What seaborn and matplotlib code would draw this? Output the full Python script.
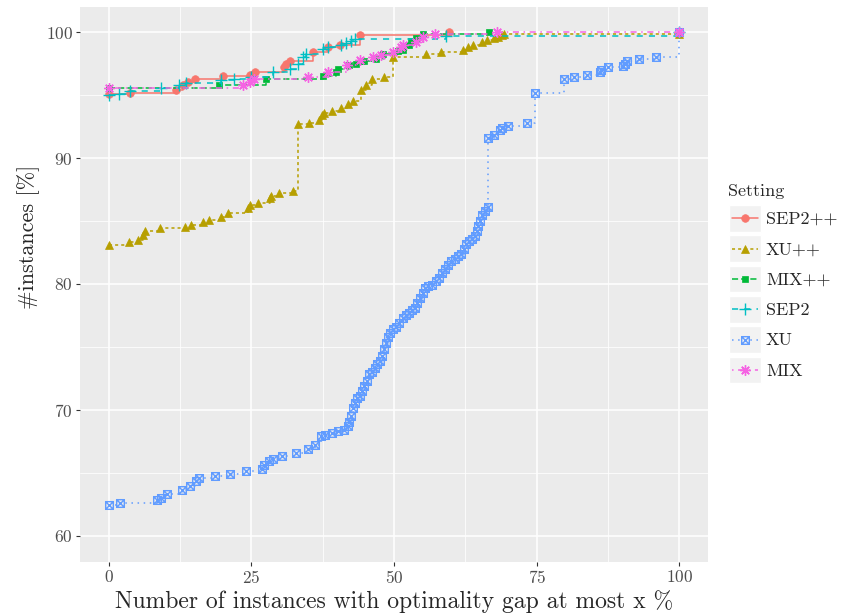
import numpy as np
import pandas as pd
import matplotlib
matplotlib.use("Agg")
import matplotlib.pyplot as plt
import seaborn as sns
from matplotlib.path import Path
from matplotlib.lines import Line2D
from matplotlib.patches import Rectangle
from matplotlib.legend_handler import HandlerBase

# step curves: x = gap bound, y = % of instances
sep2pp_x = [0, 3.7, 11.9, 13.0, 13.9, 15.1, 20.0, 24.7, 25.7, 30.8, 31.1, 31.7, 35.8, 38.4, 40.5, 44.0, 59.6]
sep2pp_y = [95.1, 95.2, 95.4, 95.8, 96.05, 96.3, 96.5, 96.6, 96.8, 97.25, 97.5, 97.7, 98.45, 98.8, 98.97, 99.8, 100.0]

xupp_x = [0, 3.6, 5.1, 6.0, 6.3, 9.1, 13.4, 14.4, 16.5, 17.6, 19.7, 21.0, 24.4, 24.7, 26.1, 28.2, 28.5,
          29.8, 32.3, 33.2, 35.1, 36.8, 37.4, 37.8, 39.2, 40.7, 41.9, 42.8, 44.3, 45.1, 46.1, 48.3, 49.8,
          55.6, 58.2, 62.1, 62.9, 63.8, 65.5, 66.3, 67.5, 68.2, 68.9, 69.2, 100]
xupp_y = [83.1, 83.3, 83.5, 83.9, 84.2, 84.4, 84.55, 84.7, 84.9, 85.1, 85.35, 85.6, 86.0, 86.3, 86.45, 86.8, 87.0,
          87.2, 87.4, 92.7, 92.8, 93.0, 93.4, 93.6, 93.7, 93.95, 94.26, 94.5, 95.4, 95.8, 96.25, 96.4, 98.04,
          98.25, 98.44, 98.57, 98.8, 99.0, 99.2, 99.4, 99.5, 99.6, 99.76, 99.82, 99.82]

mixpp_x = [0, 19.3, 27.6, 37.5, 39.9, 40.2, 42.2, 43.4, 44.8, 46.9, 48.0, 50.7, 51.5, 52.7, 53.0, 53.9, 55.1, 66.7]
mixpp_y = [95.55, 95.8, 96.24, 96.5, 96.85, 97.1, 97.38, 97.5, 97.72, 97.85, 98.25, 98.5, 98.57, 98.97, 99.29, 99.5, 99.84, 100.0]

sep2_x = [0, 1.9, 3.7, 9.2, 12.4, 13.6, 19.7, 21.9, 25.0, 28.8, 31.7, 33.2, 34.0, 34.6, 37.5, 38.4, 40.7,
          41.6, 42.5, 43.1, 59.1, 100]
sep2_y = [95.0, 95.1, 95.35, 95.6, 95.8, 95.95, 96.2, 96.27, 96.45, 96.85, 97.1, 97.5, 98.0, 98.3, 98.7, 98.8, 98.97,
          99.15, 99.3, 99.42, 99.7, 100.0]

xu_x = [0, 2.0, 8.4, 9.2, 10.3, 12.8, 14.2, 15.4, 15.9, 18.6, 21.2, 24.1, 26.9, 27.3, 28.1, 28.8, 30.4, 32.9,
        34.9, 36.1, 37.2, 38.0, 39.1, 40.2, 41.2, 41.9,
        42.2, 42.5, 42.8, 43.2, 43.6, 44.0, 44.4, 44.8, 45.3, 45.7, 46.1, 46.6, 47.1, 47.5, 47.9, 48.3, 48.6,
        48.9, 49.3, 49.8, 50.4, 50.9, 51.5, 52.1, 52.6, 53.1, 53.6, 54.1, 54.6, 55.0, 55.5, 56.0, 56.7, 57.4,
        57.9, 58.4, 58.9, 59.5, 60.0, 60.6, 61.2, 61.8, 62.2, 62.6, 63.1, 63.7, 64.2, 64.5, 64.8, 65.1, 65.5,
        65.9, 66.4,
        66.5, 67.6, 68.5, 68.9, 69.9, 73.3, 74.7, 79.7, 81.5, 83.8, 86.0, 86.3, 87.4, 90.1, 90.4, 90.8, 92.9,
        95.9, 100]
xu_y = [62.4, 62.6, 62.8, 63.0, 63.3, 63.6, 63.9, 64.3, 64.55, 64.7, 64.9, 65.1, 65.3, 65.6, 65.9, 66.1, 66.3, 66.6,
        66.9, 67.2, 67.9, 68.0, 68.15, 68.3, 68.4, 68.7,
        69.0, 69.5, 70.1, 70.5, 70.9, 71.1, 71.5, 71.9, 72.3, 72.8, 73.0, 73.3, 73.6, 73.9, 74.3, 74.8, 75.3,
        75.8, 76.1, 76.4, 76.6, 76.9, 77.3, 77.5, 77.7, 77.9, 78.1, 78.5, 78.9, 79.3, 79.7, 79.8, 79.95, 80.2,
        80.5, 80.9, 81.2, 81.5, 81.8, 82.0, 82.2, 82.4, 82.8, 83.2, 83.4, 83.6, 83.8, 84.2, 84.6, 85.0, 85.5,
        85.8, 86.1,
        91.6, 91.8, 92.2, 92.4, 92.55, 92.75, 95.2, 96.3, 96.46, 96.6, 96.8, 97.0, 97.2, 97.3, 97.5, 97.7, 97.86,
        98.04, 100.0]

mix_x = [0, 23.5, 24.7, 25.5, 34.9, 38.4, 41.8, 44.1, 46.3, 47.8, 49.8, 51.3, 51.5, 53.9, 55.0, 57.2, 68.0, 100]
mix_y = [95.58, 95.82, 96.05, 96.25, 96.45, 96.85, 97.38, 97.8, 98.04, 98.2, 98.44, 98.84, 98.97, 99.23, 99.63, 99.85, 100.0, 100.0]

settings = ["SEP2++", "XU++", "MIX++", "SEP2", "XU", "MIX"]
colors = ["#F8766D", "#B79F00", "#00BA38", "#00BFC4", "#619CFF", "#F564E3"]

# square with a cross (ggplot shape 7)
sq_cross = Path([(-1, -1), (1, -1), (1, 1), (-1, 1), (-1, -1), (-1, -1), (1, 1), (-1, 1), (1, -1)],
                [Path.MOVETO, Path.LINETO, Path.LINETO, Path.LINETO, Path.CLOSEPOLY,
                 Path.MOVETO, Path.LINETO, Path.MOVETO, Path.LINETO])

styles = {
    "SEP2++": dict(ls="-", marker="o", ms=5.5, filled=True),
    "XU++": dict(ls=(0, (2, 2)), marker="^", ms=6, filled=True),
    "MIX++": dict(ls=(0, (4, 2)), marker="s", ms=5, filled=True),
    "SEP2": dict(ls=(0, (4, 4)), marker="+", ms=8, filled=False),
    "XU": dict(ls=(0, (1, 3)), marker=sq_cross, ms=5.5, filled=False),
    "MIX": dict(ls=(0, (1, 3, 4, 3)), marker=(8, 2, 0), ms=7.5, filled=False),
}

series = {
    "SEP2++": (sep2pp_x, sep2pp_y),
    "XU++": (xupp_x, xupp_y),
    "MIX++": (mixpp_x, mixpp_y),
    "SEP2": (sep2_x, sep2_y),
    "XU": (xu_x, xu_y),
    "MIX": (mix_x, mix_y),
}

sns.set_style("darkgrid", {"axes.facecolor": "#EBEBEB", "grid.color": "white"})
plt.rcParams["font.family"] = ["cmr10", "DejaVu Serif"]
plt.rcParams["axes.formatter.use_mathtext"] = True
plt.rcParams["axes.unicode_minus"] = False

fig = plt.figure(figsize=(8.44, 6.15), dpi=100)
ax = fig.add_axes([80 / 844, 1 - 562 / 615, 628 / 844, 555 / 615])


def marker_kws(st, col):
    if st["filled"]:
        return dict(marker=st["marker"], ms=st["ms"], mfc=col, mec=col, mew=0.5)
    return dict(marker=st["marker"], ms=st["ms"], mfc="none", mec=col, mew=1.0)


handles = []
for name, col in zip(settings, colors):
    xs, ys = series[name]
    df = pd.DataFrame({"x": xs, "y": ys})
    st = styles[name]
    sns.lineplot(data=df, x="x", y="y", ax=ax, color=col, estimator=None, sort=False,
                 drawstyle="steps-post", linestyle=st["ls"], lw=1.1, legend=False,
                 **marker_kws(st, col))
    handles.append(Line2D([], [], color=col, linestyle=st["ls"], lw=1.1, **marker_kws(st, col)))

ax.set_xlim(-5, 105)
ax.set_ylim(57.9, 102.0)
ax.set_xticks([0, 25, 50, 75, 100])
ax.set_yticks([60, 70, 80, 90, 100])
ax.set_xticks([12.5, 37.5, 62.5, 87.5], minor=True)
ax.set_yticks([65, 75, 85, 95], minor=True)
ax.grid(which="major", color="white", lw=1.1)
ax.grid(which="minor", color="white", lw=0.55)
ax.tick_params(which="major", length=3, width=0.8, color="#333333", labelcolor="#4D4D4D",
               labelsize=12.5, pad=2, bottom=True, left=True)
ax.tick_params(which="minor", length=0)
for s in ax.spines.values():
    s.set_visible(False)
ax.set_axisbelow(True)

ax.set_xlabel("Number of instances with optimality gap at most x %", fontsize=17, labelpad=3)
ax.set_ylabel("#instances [%]", fontsize=16)
ax.yaxis.set_label_coords(-0.064, 0.585)


class KeyHandler(HandlerBase):
    def create_artists(self, legend, orig_handle, xdescent, ydescent, width, height, fontsize, trans):
        x0, y0 = -xdescent, -ydescent
        bg = Rectangle((x0, y0), width, height, facecolor="#F2F2F2", edgecolor="white", lw=1,
                       transform=trans)
        yc = y0 + height / 2
        ln = Line2D([x0 + 2, x0 + width - 2], [yc, yc])
        ln.update_from(orig_handle)
        ln.set_marker("None")
        ln.set_transform(trans)
        mk = Line2D([x0 + width / 2], [yc])
        mk.update_from(orig_handle)
        mk.set_linestyle("None")
        mk.set_transform(trans)
        return [bg, ln, mk]


fig.text(728 / 844, 1 - 191 / 615, "Setting", fontsize=13, ha="left", va="center")
leg = fig.legend(handles, settings, handler_map={Line2D: KeyHandler()},
                 loc="upper left", bbox_to_anchor=(729 / 844, 1 - 205 / 615),
                 frameon=False, fontsize=13,
                 handlelength=1.75, handleheight=1.9, labelspacing=0.2, handletextpad=0.3,
                 borderpad=0, borderaxespad=0)

fig.savefig("out.png", dpi=100)
